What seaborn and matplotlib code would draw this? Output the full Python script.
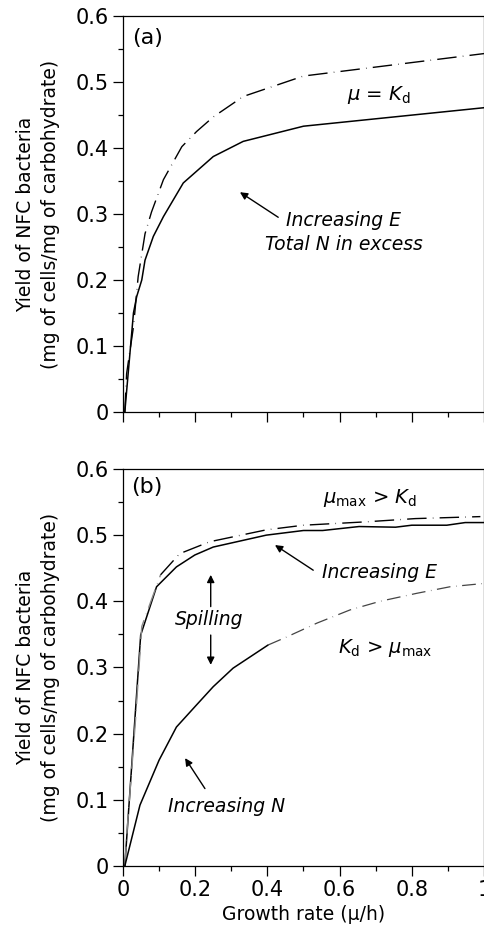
import numpy as np
import pandas as pd
import matplotlib
matplotlib.use("Agg")
import matplotlib.pyplot as plt
from matplotlib.ticker import MultipleLocator, FuncFormatter
import seaborn as sns

# panel (a): yield vs growth rate, N in excess
a_solid_x = [0.005, 0.029, 0.038, 0.052, 0.061, 0.084, 0.112, 0.167, 0.25, 0.333, 0.5, 1.0]
a_solid_y = [0.0, 0.15, 0.175, 0.2, 0.23, 0.266, 0.296, 0.347, 0.387, 0.41, 0.433, 0.461]
a_dash_x = [0.005, 0.01, 0.029, 0.042, 0.061, 0.079, 0.112, 0.163, 0.204, 0.25, 0.333, 0.5, 1.0]
a_dash_y = [0.0, 0.058, 0.129, 0.205, 0.27, 0.303, 0.352, 0.402, 0.425, 0.447, 0.478, 0.509, 0.543]

# panel (b)
b_e_x = [0.005, 0.049, 0.093, 0.148, 0.199, 0.25, 0.397, 0.5, 0.553, 0.654, 0.755, 0.8, 0.897, 0.948, 1.0]
b_e_y = [0.0, 0.349, 0.422, 0.452, 0.47, 0.482, 0.5, 0.507, 0.507, 0.513, 0.512, 0.515, 0.515, 0.519, 0.519]
b_dash_x = [0.005, 0.012, 0.034, 0.052, 0.104, 0.157, 0.24, 0.397, 0.5, 0.67, 0.81, 0.99]
b_dash_y = [0.0, 0.059, 0.216, 0.362, 0.44, 0.472, 0.49, 0.508, 0.515, 0.52, 0.525, 0.528]
b_n_x = [0.005, 0.047, 0.1, 0.148, 0.203, 0.25, 0.305, 0.402]
b_n_y = [0.0, 0.092, 0.16, 0.21, 0.243, 0.271, 0.299, 0.334]
b_kd_x = [0.402, 0.453, 0.537, 0.629, 0.712, 0.813, 0.906, 1.0]
b_kd_y = [0.334, 0.346, 0.367, 0.387, 0.40, 0.412, 0.422, 0.427]

sns.set_style("ticks")
plt.rcParams["font.family"] = ["DejaVu Sans"]
plt.rcParams["mathtext.fontset"] = "dejavusans"
plt.rcParams["axes.linewidth"] = 0.9
plt.rcParams["text.color"] = "black"
plt.rcParams["axes.labelcolor"] = "black"
plt.rcParams["xtick.color"] = "black"
plt.rcParams["ytick.color"] = "black"
plt.rcParams["axes.edgecolor"] = "black"

fig = plt.figure(figsize=(4.85, 9.34), dpi=100)
ax_a = fig.add_axes([0.2536, 0.5589, 0.7443, 0.424])
ax_b = fig.add_axes([0.2536, 0.0728, 0.7443, 0.4251])

dash_long = (14, 4.5, 0.4, 4.5)
dash_short = (11, 4.5, 0.4, 4.5)

sns.lineplot(x=a_solid_x, y=a_solid_y, ax=ax_a, color="black", lw=1.1, sort=False)
sns.lineplot(x=a_dash_x, y=a_dash_y, ax=ax_a, color="black", lw=1.0, sort=False)
ax_a.lines[-1].set_dashes(dash_long)

sns.lineplot(x=b_e_x, y=b_e_y, ax=ax_b, color="black", lw=1.1, sort=False)
sns.lineplot(x=b_dash_x[:5], y=b_dash_y[:5], ax=ax_b, color="#888888", lw=1.0, sort=False)
ax_b.lines[-1].set_dashes(dash_long)
sns.lineplot(x=b_dash_x[4:], y=b_dash_y[4:], ax=ax_b, color="black", lw=1.0, sort=False)
ax_b.lines[-1].set_dashes(dash_long)
sns.lineplot(x=b_n_x, y=b_n_y, ax=ax_b, color="black", lw=1.1, sort=False)
sns.lineplot(x=b_kd_x, y=b_kd_y, ax=ax_b, color="#444444", lw=0.9, sort=False)
ax_b.lines[-1].set_dashes(dash_short)

fmt = FuncFormatter(lambda v, p: f"{v:g}")
for ax in (ax_a, ax_b):
    ax.set_xlim(0, 1)
    ax.set_ylim(0, 0.6)
    ax.xaxis.set_major_locator(MultipleLocator(0.2))
    ax.xaxis.set_minor_locator(MultipleLocator(0.1))
    ax.yaxis.set_major_locator(MultipleLocator(0.1))
    ax.yaxis.set_minor_locator(MultipleLocator(0.05))
    ax.xaxis.set_major_formatter(fmt)
    ax.yaxis.set_major_formatter(fmt)
    ax.tick_params(which="major", direction="out", length=7, width=0.9, labelsize=15, pad=3)
    ax.tick_params(which="minor", direction="out", length=3.5, width=0.9)
    ax.set_ylabel("Yield of NFC bacteria\n(mg of cells/mg of carbohydrate)",
                  fontsize=13.5, linespacing=1.4)
    ax.yaxis.set_label_coords(-0.175, 0.5)
    for s in ax.spines.values():
        s.set_visible(True)

ax_a.tick_params(labelbottom=False)
ax_b.set_xlabel("Growth rate (\u03bc/h)", fontsize=13.5, labelpad=4)

arrow = dict(arrowstyle="-|>", color="black", lw=1.0, mutation_scale=11, shrinkA=0, shrinkB=0)

# panel (a) annotations
ax_a.text(0.069, 0.567, "(a)", fontsize=16, ha="center", va="center")
ax_a.text(0.62, 0.48, r"$\mu$ = $K_\mathrm{d}$", fontsize=14, ha="left", va="center")
ax_a.text(0.612, 0.272, "Increasing E\nTotal N in excess", fontsize=13.5, style="italic",
          ha="center", va="center", linespacing=1.3)
ax_a.annotate("", xy=(0.324, 0.333), xytext=(0.43, 0.295), arrowprops=arrow)

# panel (b) annotations
ax_b.text(0.066, 0.573, "(b)", fontsize=16, ha="center", va="center")
ax_b.text(0.554, 0.556, r"$\mu_\mathrm{max}$ > $K_\mathrm{d}$", fontsize=14, ha="left", va="center")
ax_b.text(0.551, 0.443, "Increasing E", fontsize=13.5, style="italic", ha="left", va="center")
ax_b.annotate("", xy=(0.421, 0.485), xytext=(0.527, 0.447), arrowprops=arrow)
ax_b.text(0.238, 0.372, "Spilling", fontsize=13.5, style="italic", ha="center", va="center")
ax_b.annotate("", xy=(0.243, 0.44), xytext=(0.243, 0.392), arrowprops=arrow)
ax_b.annotate("", xy=(0.243, 0.304), xytext=(0.243, 0.349), arrowprops=arrow)
ax_b.text(0.596, 0.33, r"$K_\mathrm{d}$ > $\mu_\mathrm{max}$", fontsize=14, ha="left", va="center")
ax_b.text(0.288, 0.0896, "Increasing N", fontsize=13.5, style="italic", ha="center", va="center")
ax_b.annotate("", xy=(0.172, 0.163), xytext=(0.227, 0.117), arrowprops=arrow)

fig.savefig("out.png", dpi=100)
plt.close(fig)
